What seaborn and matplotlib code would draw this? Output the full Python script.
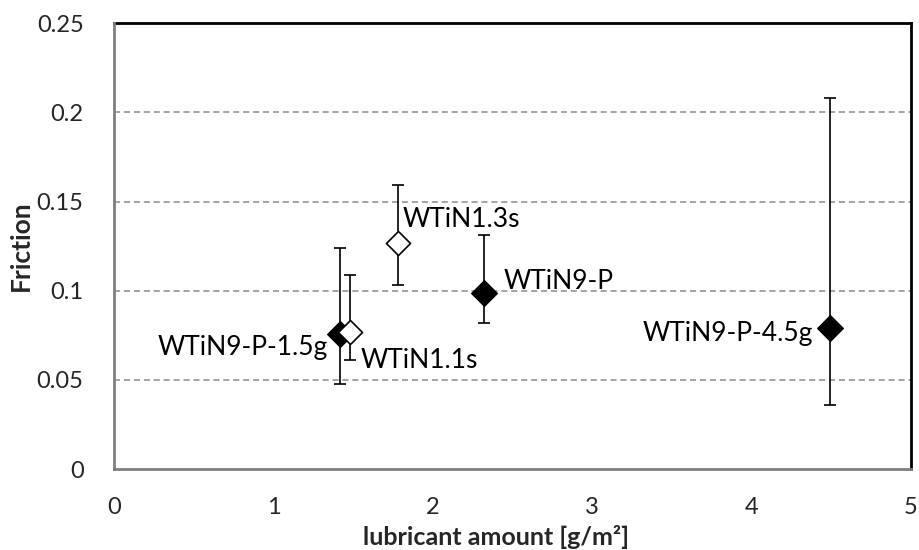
import matplotlib
matplotlib.use("Agg")
import matplotlib.pyplot as plt
import seaborn as sns
import pandas as pd
import numpy as np

# ---- data ----
samples = ["WTiN9-P-1.5g", "WTiN1.1s", "WTiN1.3s", "WTiN9-P", "WTiN9-P-4.5g"]
lubricant = [1.42, 1.48, 1.78, 2.32, 4.49]
friction = [0.076, 0.077, 0.127, 0.099, 0.079]
err_low = [0.048, 0.061, 0.103, 0.082, 0.036]
err_high = [0.124, 0.109, 0.159, 0.131, 0.208]
filled = [True, False, False, True, True]
x_ticks = [0, 1, 2, 3, 4, 5]
y_ticks = [0, 0.05, 0.1, 0.15, 0.2, 0.25]
x_tick_labels = ["0", "1", "2", "3", "4", "5"]
y_tick_labels = ["0", "0.05", "0.1", "0.15", "0.2", "0.25"]

# label offsets (points) and alignment - styling only
label_style = {
    "WTiN9-P-1.5g": (-9, -10, "right"),
    "WTiN1.1s": (8, -21, "left"),
    "WTiN1.3s": (3.5, 16.5, "left"),
    "WTiN9-P": (14, 8, "left"),
    "WTiN9-P-4.5g": (-12, -3.5, "right"),
}

df = pd.DataFrame({"sample": samples, "lubricant": lubricant, "friction": friction,
                   "low": err_low, "high": err_high, "filled": filled})

sns.set_theme(style="white")
plt.rcParams["font.family"] = ["Lato", "DejaVu Sans"]

fig = plt.figure(figsize=(9.2, 5.5), dpi=100)
ax = fig.add_axes([0.124, 0.147, 0.866, 0.811])

# gridlines
for yv in y_ticks[1:-1]:
    ax.axhline(yv, color="#8c8c8c", lw=1.1, ls=(0, (4, 2.5)), zorder=0)

# error bars
yerr = np.vstack([df["friction"] - df["low"], df["high"] - df["friction"]])
ax.errorbar(df["lubricant"], df["friction"], yerr=yerr, fmt="none",
            ecolor="black", elinewidth=1.2, capsize=4.5, capthick=1.2, zorder=2)

# markers
sub_f = df[df["filled"]]
sub_o = df[~df["filled"]]
sns.scatterplot(data=sub_f, x="lubricant", y="friction", marker="D", s=170,
                color="black", edgecolor="black", linewidth=1.0, ax=ax, zorder=3)
sns.scatterplot(data=sub_o, x="lubricant", y="friction", marker="D", s=150,
                color="white", edgecolor="black", linewidth=1.2, ax=ax, zorder=3)

for s, xv, yv in zip(df["sample"], df["lubricant"], df["friction"]):
    dx, dy, ha = label_style[s]
    ax.annotate(s, (xv, yv), xytext=(dx, dy), textcoords="offset points",
                ha=ha, va="center", fontsize=19, color="black")

ax.set_xlim(0, 5)
ax.set_ylim(0, 0.25)
ax.set_xticks(x_ticks)
ax.set_xticklabels(x_tick_labels)
ax.set_yticks(y_ticks)
ax.set_yticklabels(y_tick_labels)
ax.tick_params(axis="x", direction="in", length=6, width=1.2, color="#8c8c8c",
               labelsize=17, pad=20, top=False)
ax.tick_params(axis="y", length=0, labelsize=17, pad=22)

ax.set_xlabel("lubricant amount [g/m²]", fontsize=18, fontweight="bold",
              labelpad=5, x=0.48)
ax.set_ylabel("Friction", fontsize=19, fontweight="bold", labelpad=3)

for side in ["left", "bottom"]:
    ax.spines[side].set_color("#7f7f7f")
    ax.spines[side].set_linewidth(2.0)
    ax.spines[side].set_zorder(4)
for side in ["top", "right"]:
    ax.spines[side].set_color("black")
    ax.spines[side].set_linewidth(2.0)

ax.set_facecolor("white")
fig.patch.set_facecolor("white")
fig.savefig("out.png", dpi=100, facecolor="white")
